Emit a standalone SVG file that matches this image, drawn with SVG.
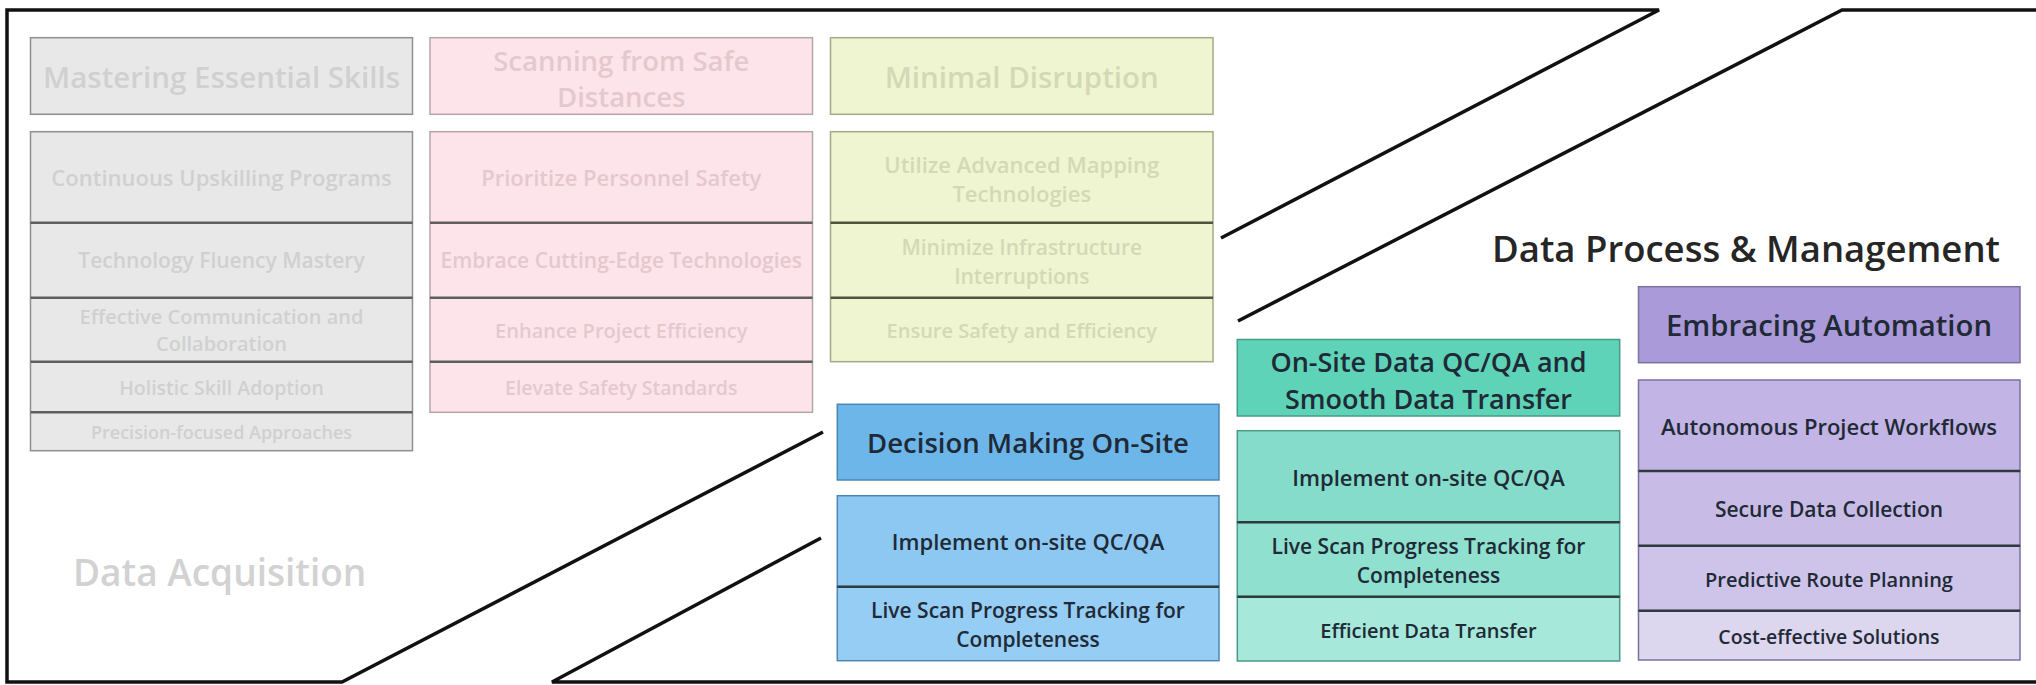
<svg xmlns="http://www.w3.org/2000/svg" width="2036" height="685" viewBox="0 0 2036 685">
<style>
.t{font-family:"Open Sans","Liberation Sans",sans-serif;font-weight:600;text-anchor:middle;dominant-baseline:central}
.h{font-size:28px}
.r1{font-size:22px}.r2{font-size:21px}.r3{font-size:20px}.r4{font-size:19.5px}.r5{font-size:18px}
.title{font-family:"Open Sans","Liberation Sans",sans-serif;font-weight:600}
.line{fill:none;stroke:#111;stroke-width:3.5;stroke-linejoin:miter}
.gray rect{fill:#e8e8e8;stroke:#8f8f8f;stroke-width:1.5}
.gray .sep{stroke:#5e5e5e;stroke-width:2.5}
.gray text{fill:#d0d0d0}
.pink rect{fill:#fde4ea;stroke:#b5a5a9;stroke-width:1.5}
.pink .sep{stroke:#5e5e5e;stroke-width:2.5}
.pink text{fill:#e5c8ce}
.yel rect{fill:#eff5d0;stroke:#a4aa88;stroke-width:1.5}
.yel .sep{stroke:#4f5440;stroke-width:2.5}
.yel text{fill:#d3d9b6}
.blue rect{stroke:#4d86b3;stroke-width:1.5}
.teal rect{stroke:#4a9a86;stroke-width:1.5}
.pur rect{stroke:#7c72a0;stroke-width:1.5}
.dk text{fill:#1f2a36}
.csep{stroke:#2f3a40;stroke-width:2.5}
</style>
<rect width="2036" height="685" fill="#ffffff"/>
<g id="connectors">
<path class="line" d="M1221,238 L1659,10 L7,10 L7,682 L342,682 L823,432"/>
<path class="line" d="M1238,321 L1842,10 L2036,10"/>
<path class="line" d="M821,538 L552,682 L2036,682"/>
</g>
<text id="label-acq" class="title" x="73" y="586" font-size="37" fill="#d2d2d2">Data Acquisition</text>
<text id="label-proc" class="title" x="1492" y="262" font-size="36.5" fill="#262626">Data Process &amp; Management</text>

<g id="gray-header" class="gray">
<rect x="30.5" y="37.7" width="382" height="76.6"/>
<text class="t" font-size="29.5" x="221.5" y="76">Mastering Essential Skills</text>
</g>
<g id="gray-items" class="gray">
<rect x="30.5" y="131.7" width="382" height="319"/>
<line class="sep" x1="30.5" y1="222.7" x2="412.5" y2="222.7"/>
<line class="sep" x1="30.5" y1="297.7" x2="412.5" y2="297.7"/>
<line class="sep" x1="30.5" y1="361.7" x2="412.5" y2="361.7"/>
<line class="sep" x1="30.5" y1="412.3" x2="412.5" y2="412.3"/>
<g id="gray-1"><text class="t r1" x="221.5" y="177">Continuous Upskilling Programs</text></g>
<g id="gray-2"><text class="t r2" x="221.5" y="260">Technology Fluency Mastery</text></g>
<g id="gray-3"><text class="t r3" x="221.5" y="316">Effective Communication and</text><text class="t r3" x="221.5" y="343">Collaboration</text></g>
<g id="gray-4"><text class="t r4" x="221.5" y="387">Holistic Skill Adoption</text></g>
<g id="gray-5"><text class="t r5" x="221.5" y="432">Precision-focused Approaches</text></g>
</g>

<g id="pink-header" class="pink">
<rect x="430" y="37.7" width="382.5" height="76.6"/>
<text class="t" font-size="27.5" x="621.25" y="60">Scanning from Safe</text>
<text class="t" font-size="27.5" x="621.25" y="96">Distances</text>
</g>
<g id="pink-items" class="pink">
<rect x="430" y="131.7" width="382.5" height="280.6"/>
<line class="sep" x1="430" y1="222.7" x2="812.5" y2="222.7"/>
<line class="sep" x1="430" y1="297.7" x2="812.5" y2="297.7"/>
<line class="sep" x1="430" y1="361.7" x2="812.5" y2="361.7"/>
<g id="pink-1"><text class="t r1" x="621.25" y="177">Prioritize Personnel Safety</text></g>
<g id="pink-2"><text class="t r2" x="621.25" y="260">Embrace Cutting-Edge Technologies</text></g>
<g id="pink-3"><text class="t r3" x="621.25" y="330">Enhance Project Efficiency</text></g>
<g id="pink-4"><text class="t r4" x="621.25" y="387">Elevate Safety Standards</text></g>
</g>

<g id="yellow-header" class="yel">
<rect x="830.5" y="37.7" width="382.5" height="76.6"/>
<text class="t" font-size="29.5" x="1021.75" y="76">Minimal Disruption</text>
</g>
<g id="yellow-items" class="yel">
<rect x="830.5" y="131.7" width="382.5" height="230"/>
<line class="sep" x1="830.5" y1="222.7" x2="1213" y2="222.7"/>
<line class="sep" x1="830.5" y1="297.7" x2="1213" y2="297.7"/>
<g id="yellow-1"><text class="t r1" x="1021.75" y="164">Utilize Advanced Mapping</text><text class="t r1" x="1021.75" y="193">Technologies</text></g>
<g id="yellow-2"><text class="t r2" x="1021.75" y="247">Minimize Infrastructure</text><text class="t r2" x="1021.75" y="276">Interruptions</text></g>
<g id="yellow-3"><text class="t r3" x="1021.75" y="330">Ensure Safety and Efficiency</text></g>
</g>

<g id="blue-header" class="blue dk">
<rect x="837.3" y="404.3" width="381.7" height="75.7" fill="#6db6ea"/>
<text class="t" font-size="27.5" x="1028" y="442">Decision Making On-Site</text>
</g>
<g id="blue-items" class="blue dk">
<rect x="837.3" y="495.7" width="381.7" height="91" fill="#8dc8f3"/>
<rect x="837.3" y="586.7" width="381.7" height="74" fill="#96cdf4"/>
<line class="csep" x1="837.3" y1="586.7" x2="1219" y2="586.7"/>
<g id="blue-1"><text class="t r1" x="1028" y="541">Implement on-site QC/QA</text></g>
<g id="blue-2"><text class="t r2" x="1028" y="610">Live Scan Progress Tracking for</text><text class="t r2" x="1028" y="639">Completeness</text></g>
</g>

<g id="teal-header" class="teal dk">
<rect x="1237.3" y="339.5" width="382.4" height="76.5" fill="#5ed3b7"/>
<text class="t" font-size="27" x="1428.5" y="361">On-Site Data QC/QA and</text>
<text class="t" font-size="27" x="1428.5" y="398">Smooth Data Transfer</text>
</g>
<g id="teal-items" class="teal dk">
<rect x="1237.3" y="430.7" width="382.4" height="91.6" fill="#86dccb"/>
<rect x="1237.3" y="522.3" width="382.4" height="74.4" fill="#8fe0cf"/>
<rect x="1237.3" y="596.7" width="382.4" height="64.3" fill="#a6e8da"/>
<line class="csep" x1="1237.3" y1="522.3" x2="1619.7" y2="522.3"/>
<line class="csep" x1="1237.3" y1="596.7" x2="1619.7" y2="596.7"/>
<g id="teal-1"><text class="t r1" x="1428.5" y="477">Implement on-site QC/QA</text></g>
<g id="teal-2"><text class="t r2" x="1428.5" y="546">Live Scan Progress Tracking for</text><text class="t r2" x="1428.5" y="575">Completeness</text></g>
<g id="teal-3"><text class="t r3" x="1428.5" y="630">Efficient Data Transfer</text></g>
</g>

<g id="purple-header" class="pur dk">
<rect x="1638.5" y="286.7" width="381.5" height="76" fill="#ab9ad9"/>
<text class="t" font-size="29.3" x="1829" y="325">Embracing Automation</text>
</g>
<g id="purple-items" class="pur dk">
<rect x="1638.5" y="380" width="381.5" height="91" fill="#c2b4e4"/>
<rect x="1638.5" y="471" width="381.5" height="74.7" fill="#c8bce6"/>
<rect x="1638.5" y="545.7" width="381.5" height="65" fill="#cec4e9"/>
<rect x="1638.5" y="610.7" width="381.5" height="49.3" fill="#ddd6ef"/>
<line class="csep" x1="1638.5" y1="471" x2="2020" y2="471"/>
<line class="csep" x1="1638.5" y1="545.7" x2="2020" y2="545.7"/>
<line class="csep" x1="1638.5" y1="610.7" x2="2020" y2="610.7"/>
<g id="purple-1"><text class="t r1" x="1829" y="426">Autonomous Project Workflows</text></g>
<g id="purple-2"><text class="t r2" x="1829" y="509">Secure Data Collection</text></g>
<g id="purple-3"><text class="t r3" x="1829" y="579">Predictive Route Planning</text></g>
<g id="purple-4"><text class="t r4" x="1829" y="636">Cost-effective Solutions</text></g>
</g>
</svg>
